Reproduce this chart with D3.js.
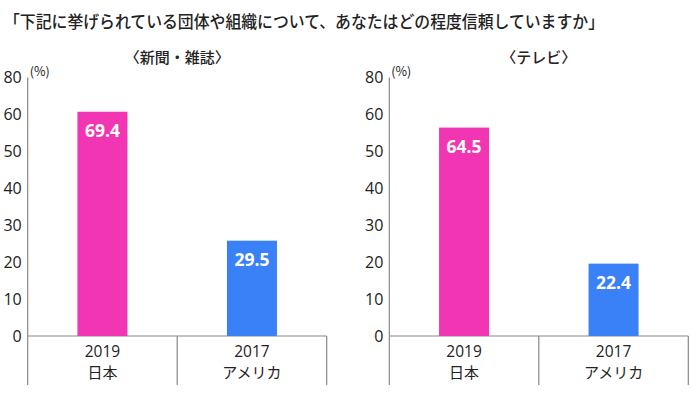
<!DOCTYPE html>
<html>
<head>
<meta charset="utf-8">
<script src="https://cdn.jsdelivr.net/npm/d3@7"></script>
<style>
  body { margin: 0; background: #fff; }
  text { font-family: "Noto Sans CJK JP", "Noto Sans", sans-serif; fill: #222; }
  text.num { font-family: "Open Sans", "Noto Sans", sans-serif; }
</style>
</head>
<body>
<div id="chart"></div>
<script>
const title = "「下記に挙げられている団体や組織について、あなたはどの程度信頼していますか」";
const panelTitles = ["〈新聞・雑誌〉", "〈テレビ〉"];
const years = ["2019", "2017"];
const countries = ["日本", "アメリカ"];
const pressValues = [69.4, 29.5];
const tvValues = [64.5, 22.4];
const tickLabels = ["0", "10", "20", "30", "40", "50", "60", "80"];
const barColors = ["#f236b3", "#3a80f7"];

const width = 690, height = 396;
const baseY = 336, topY = 77.5, bottomY = 385;
const panelW = 299;
const panelX = [27.7, 389.3];

const svg = d3.select("#chart").append("svg")
    .attr("width", width)
    .attr("height", height);

svg.append("text")
    .attr("x", 4)
    .attr("y", 28)
    .attr("font-size", 16.5)
    .attr("font-weight", 500)
    .attr("textLength", 600)
    .attr("lengthAdjust", "spacingAndGlyphs")
    .text(title);

// bars are on a 0-80 scale, tick labels are spread evenly (as in the original)
const y = d3.scaleLinear().domain([0, 80]).range([baseY, topY]);
const tickY = d3.scalePoint().domain(tickLabels).range([baseY, topY]);
const x = d3.scaleBand().domain(years).range([0, panelW]).padding(0);
const barW = 50;

[pressValues, tvValues].forEach((vals, p) => {
    const g = svg.append("g").attr("transform", `translate(${panelX[p]},0)`);

    g.append("text")
        .attr("x", panelW / 2)
        .attr("y", 63)
        .attr("text-anchor", "middle")
        .attr("font-size", 15)
        .attr("font-weight", 500)
        .text(panelTitles[p]);

    g.append("text")
        .attr("x", 2)
        .attr("y", 76)
        .attr("font-size", 12.5)
        .text("(%)");

    g.selectAll(".tick")
        .data(tickLabels)
        .join("text")
        .attr("class", "num")
        .attr("x", -6)
        .attr("y", d => tickY(d))
        .attr("dy", "0.36em")
        .attr("text-anchor", "end")
        .attr("font-size", 16)
        .text(d => d);

    // axis + frame lines
    g.append("line")
        .attr("x1", 0).attr("x2", 0)
        .attr("y1", topY).attr("y2", bottomY)
        .attr("stroke", "#888").attr("stroke-width", 1.2);
    g.append("line")
        .attr("x1", 0).attr("x2", panelW)
        .attr("y1", baseY).attr("y2", baseY)
        .attr("stroke", "#888").attr("stroke-width", 1.2);
    g.selectAll(".div")
        .data(years)
        .join("line")
        .attr("x1", d => x(d) + x.bandwidth())
        .attr("x2", d => x(d) + x.bandwidth())
        .attr("y1", baseY).attr("y2", bottomY)
        .attr("stroke", "#888").attr("stroke-width", 1.2);

    g.selectAll(".bar")
        .data(vals)
        .join("rect")
        .attr("x", (d, i) => x(years[i]) + x.bandwidth() / 2 - barW / 2)
        .attr("y", d => y(d))
        .attr("width", barW)
        .attr("height", d => baseY - y(d))
        .attr("fill", (d, i) => barColors[i]);

    g.selectAll(".val")
        .data(vals)
        .join("text")
        .attr("class", "num")
        .attr("x", (d, i) => x(years[i]) + x.bandwidth() / 2)
        .attr("y", d => y(d) + 19)
        .attr("dy", "0.36em")
        .attr("text-anchor", "middle")
        .attr("font-size", 17.5)
        .attr("font-weight", "bold")
        .style("fill", "#fff")
        .text(d => d.toFixed(1));

    g.selectAll(".year")
        .data(years)
        .join("text")
        .attr("class", "num")
        .attr("x", d => x(d) + x.bandwidth() / 2)
        .attr("y", 351)
        .attr("dy", "0.36em")
        .attr("text-anchor", "middle")
        .attr("font-size", 15.5)
        .text(d => d);

    g.selectAll(".country")
        .data(countries)
        .join("text")
        .attr("x", (d, i) => x(years[i]) + x.bandwidth() / 2)
        .attr("y", 372.5)
        .attr("dy", "0.36em")
        .attr("text-anchor", "middle")
        .attr("font-size", 15)
        .text(d => d);
});
</script>
</body>
</html>
